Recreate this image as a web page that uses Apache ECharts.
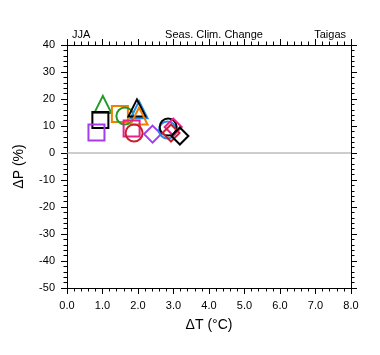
<!DOCTYPE html>
<html><head><meta charset="utf-8">
<script src="https://cdn.jsdelivr.net/npm/echarts@6/dist/echarts.min.js"></script>
<style>html,body{margin:0;padding:0;background:#fff}#c{width:380px;height:355px}</style>
</head><body><div id="c"></div>
<script>
// Seasonal climate change (JJA, Taigas): warming (°C) vs precipitation change (%)
var dT = [1.01, 0.94, 0.83, 1.49, 1.63, 2.03, 1.97, 2.03, 1.82, 1.89, 2.41, 2.83, 2.85, 2.99, 2.93, 3.18];
var dP = [18.0, 12.2, 7.6, 14.4, 13.7, 16.0, 16.7, 13.7, 9.1, 7.4, 7.0, 8.5, 9.6, 9.6, 7.4, 6.3];
var xTicks = [0, 1, 2, 3, 4, 5, 6, 7, 8];
var yTicks = [-50, -40, -30, -20, -10, 0, 10, 20, 30, 40];

var markerSymbols = ['triangle','rect','rect','rect','circle','triangle','triangle','triangle','rect','circle','diamond','circle','circle','diamond','diamond','diamond'];
var markerColors = ['#229a2a','#000000','#a43cf0','#f08000','#229a2a','#1e8cf0','#000000','#f08000','#e8208a','#c82030','#a43cf0','#1e8cf0','#000000','#e8208a','#c82030','#000000'];

var font = 'Liberation Sans, Arial, sans-serif';
var series = dT.map(function(x, i){
  return {
    type: 'scatter', xAxisIndex: 0, yAxisIndex: 0,
    symbol: markerSymbols[i], symbolSize: markerSymbols[i]==='rect' ? 16 : 17,
    itemStyle: {color: 'rgba(0,0,0,0)', borderColor: markerColors[i], borderWidth: 2, opacity: 1},
    data: [[x, dP[i]]], z: 3 + i, silent: true, animation: false
  };
});
series.unshift({
  type: 'line', data: [[0,0],[8,0]], symbol: 'none', silent: true, animation: false,
  lineStyle: {color: '#9a9a9a', width: 1}, z: 2
});

var axisCommon = {
  axisLine: {onZero: false, lineStyle: {color: '#000', width: 1}},
  axisTick: {show: true, inside: false, length: 6, lineStyle: {color: '#000'}},
  minorTick: {show: true, splitNumber: 5, length: 3.5, lineStyle: {color: '#000'}},
  splitLine: {show: false}
};
function mk(base, extra){ return Object.assign({}, JSON.parse(JSON.stringify(base)), extra); }

var option = {
  animation: false,
  backgroundColor: '#fff',
  grid: {left: 67, right: 29, top: 45, bottom: 67, containLabel: false},
  title: [
    {text: 'JJA', left: 67, top: 24, textStyle: {fontFamily: font, fontSize: 11, fontWeight: 'normal', color: '#000'}},
    {text: 'Seas. Clim. Change', left: 209, top: 24, textAlign: 'center', textStyle: {fontFamily: font, fontSize: 11, fontWeight: 'normal', color: '#000'}},
    {text: 'Taigas', right: 29, top: 24, textStyle: {fontFamily: font, fontSize: 11, fontWeight: 'normal', color: '#000'}}
  ],
  xAxis: [
    mk(axisCommon, {type: 'value', position: 'bottom', min: xTicks[0], max: xTicks[xTicks.length-1], interval: 1,
      axisLabel: {fontFamily: font, fontSize: 11, color: '#000', margin: 12, formatter: function(v){return v.toFixed(1);}},
      name: 'ΔT (°C)', nameLocation: 'middle', nameGap: 30, nameTextStyle: {fontFamily: font, fontSize: 14, color: '#000'}}),
    mk(axisCommon, {type: 'value', position: 'top', min: xTicks[0], max: xTicks[xTicks.length-1], interval: 1, axisLabel: {show: false}})
  ],
  yAxis: [
    mk(axisCommon, {type: 'value', position: 'left', min: yTicks[0], max: yTicks[yTicks.length-1], interval: 10,
      axisLabel: {fontFamily: font, fontSize: 11, color: '#000', margin: 12},
      name: 'ΔP (%)', nameLocation: 'middle', nameGap: 41, nameRotate: 90, nameTextStyle: {fontFamily: font, fontSize: 14, color: '#000'}}),
    mk(axisCommon, {type: 'value', position: 'right', min: yTicks[0], max: yTicks[yTicks.length-1], interval: 10, axisLabel: {show: false}})
  ],
  series: series
};
echarts.init(document.getElementById('c'), null, {renderer: 'canvas'}).setOption(option);
</script></body></html>
